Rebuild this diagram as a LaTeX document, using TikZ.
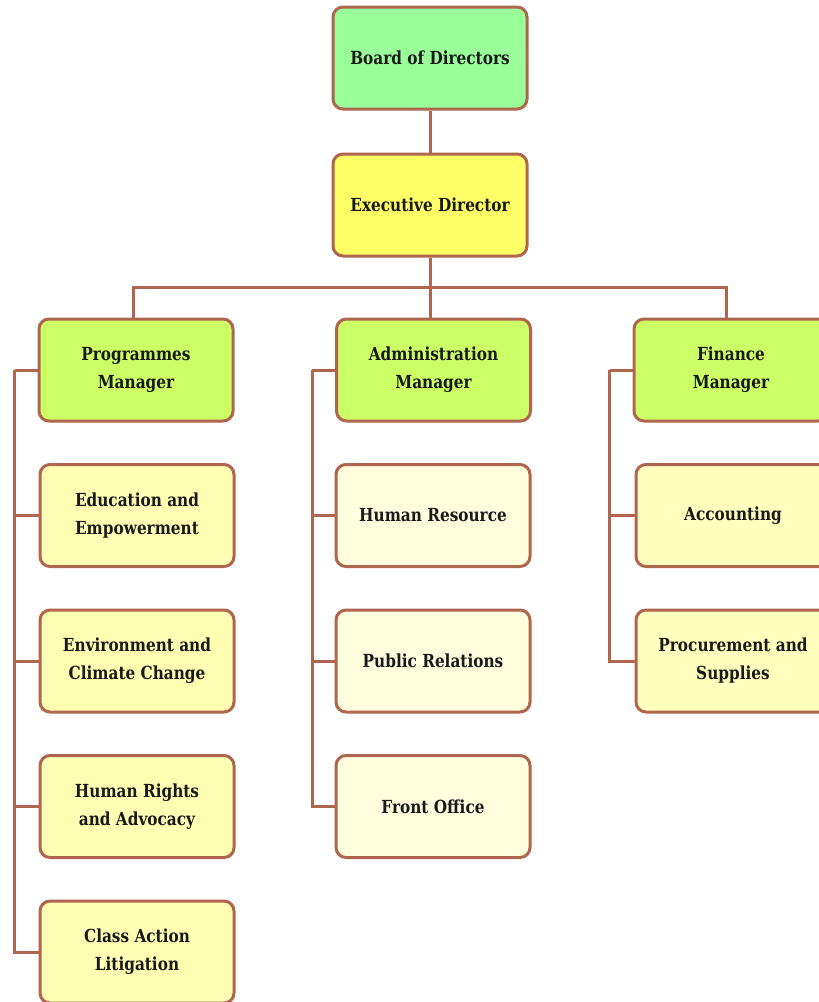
\documentclass[tikz,border=0pt]{standalone}
\usepackage{fontspec}
\setmainfont{DejaVu Serif}[FakeStretch=0.85]
\usetikzlibrary{positioning}
\definecolor{linkbrown}{HTML}{B0654F}
\definecolor{boardgreen}{HTML}{99FF99}
\definecolor{execyellow}{HTML}{FFFF66}
\definecolor{mgrgreen}{HTML}{CCFF66}
\definecolor{progyellow}{HTML}{FFFFB3}
\definecolor{adminyellow}{HTML}{FFFFDE}
\definecolor{finyellow}{HTML}{FFFFBE}
\def\xsep{297.5pt}
\def\ysep{145.5pt}
\def\trunk{23pt}

\begin{document}
\begin{tikzpicture}[
    x=1pt, y=1pt,
    unit/.style={
      draw=linkbrown, line width=3pt, rounded corners=10pt,
      minimum width=194pt, minimum height=102pt,
      align=center, text=black!90,
      font=\fontsize{18}{28}\selectfont\bfseries
    },
    board/.style={unit, fill=boardgreen},
    exec/.style={unit, fill=execyellow},
    manager/.style={unit, fill=mgrgreen},
    progunit/.style={unit, fill=progyellow},
    adminunit/.style={unit, fill=adminyellow},
    finunit/.style={unit, fill=finyellow},
    link/.style={draw=linkbrown, line width=3pt}
  ]
    \useasboundingbox[fill=white] (0,0) rectangle (819,-1002);

    \node[board] (Board) at (430,-58) {Board of Directors};
    \node[exec] (Exec) at (430,-205) {Executive Director};

    \node[manager] (Prog)  at (136+0*\xsep,-370) {Programmes\\Manager};
    \node[manager] (Admin) at (136+1*\xsep,-370) {Administration\\Manager};
    \node[manager] (Fin)   at (136+2*\xsep,-370) {Finance\\Manager};

    \node[progunit] (Edu)    at (137,-370-1*\ysep) {Education and\\Empowerment};
    \node[progunit] (Env)    at (137,-370-2*\ysep) {Environment and\\Climate Change};
    \node[progunit] (Rights) at (137,-370-3*\ysep) {Human Rights\\and Advocacy};
    \node[progunit] (Class)  at (137,-370-4*\ysep) {Class Action\\Litigation};

    \node[adminunit] (HR)     at (433,-370-1*\ysep) {Human Resource};
    \node[adminunit] (PR)     at (433,-370-2*\ysep) {Public Relations};
    \node[adminunit] (Office) at (433,-370-3*\ysep) {Front Office};

    \node[finunit] (Acc)  at (733,-370-1*\ysep) {Accounting};
    \node[finunit] (Proc) at (733,-370-2*\ysep) {Procurement and\\Supplies};

    \draw[link] (Board) -- (Exec);
    \draw[link] (Exec.south) -- ++(0,-30) coordinate (Bus);
    \draw[link] (Bus) -| ([xshift=-3pt]Prog.north);
    \draw[link] (Bus) -- (Bus |- Admin.north);
    \draw[link] (Bus) -| ([xshift=-5pt]Fin.north);

    \draw[link] (Prog.west) -- ++(-\trunk,0) coordinate (ProgTrunk);
    \foreach \n in {Edu,Env,Rights,Class}
      \draw[link] (ProgTrunk) |- (\n.west);

    \draw[link] (Admin.west) -- ++(-\trunk,0) coordinate (AdminTrunk);
    \foreach \n in {HR,PR,Office}
      \draw[link] (AdminTrunk) |- (\n.west);

    \draw[link] (Fin.west) -- ++(-\trunk,0) coordinate (FinTrunk);
    \foreach \n in {Acc,Proc}
      \draw[link] (FinTrunk) |- (\n.west);
  \end{tikzpicture}
\end{document}
